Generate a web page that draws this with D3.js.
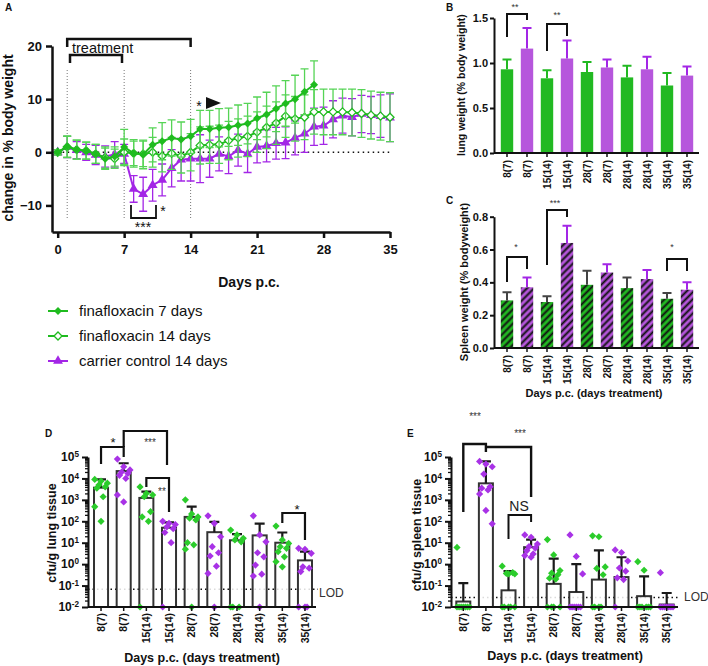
<!DOCTYPE html>
<html><head><meta charset="utf-8">
<script src="https://cdn.jsdelivr.net/npm/d3@7"></script>
<style>
body{margin:0;background:#fff;}
svg{font-family:"Liberation Sans",Arial,Helvetica,sans-serif;}
</style></head><body>
<svg id="c" width="708" height="666"></svg>
<script>
// ================= DATA =================
// Panel A: change in % body weight
const daysAll = [0,1,2,3,4,5,6,7,8,9,10,11,12,13,14,15,16,17,18,19,20,21,22,23,24,25,26,27,28,29,30,31,32,33,34,35];
const daysFina7 = [0,1,2,3,4,5,6,7,8,9,10,11,12,13,14,15,16,17,18,19,20,21,22,23,24,25,26,27];
const fina7 = [0,1.1,0.5,0.3,-0.3,-1.2,-0.8,1.0,-0.2,-0.4,1.4,2.1,2.7,2.4,3.0,4.4,4.4,4.6,4.7,5.1,5.4,6.4,7.1,8.2,9.2,10.0,11.4,12.7];
const fina7Err = [0.5,2.0,1.8,1.6,1.8,2.0,1.8,3.3,2.6,2.7,3.2,3.5,3.4,3.3,3.2,3.5,3.5,3.6,3.6,3.8,3.8,4.0,4.2,4.3,4.3,4.5,4.3,4.5];
const fina14 = [0,1.0,0.5,0.3,-0.3,-1.0,-1.2,0.0,-0.2,-0.3,0.0,-0.7,-0.2,-0.7,0.0,1.3,1.4,1.5,2.2,2.7,3.0,3.8,4.7,5.5,6.8,6.3,6.6,7.6,7.6,7.6,7.6,7.5,7.3,7.0,6.8,6.6];
const fina14Err = [0.5,2.0,1.8,1.6,1.8,2.0,1.8,2.5,2.3,2.4,2.8,3.0,3.0,3.2,3.5,3.5,3.5,3.6,3.6,3.6,3.8,3.8,4.0,4.0,4.0,4.2,4.2,4.2,4.3,4.3,4.3,4.4,4.5,4.5,4.5,4.6];
const carrier = [0,1.0,0.4,0.0,-0.5,-0.8,-0.4,-0.3,-6.9,-7.9,-6.2,-5.2,-3.0,-1.4,-1.2,-1.2,-1.2,-0.3,-0.8,0.4,-0.3,1.0,1.2,1.7,1.8,2.7,3.5,4.8,5.0,6.2,6.9,6.6,7.2,7.0,6.8,6.5];
const carrierErr = [0.5,2.0,1.6,1.5,1.8,2.0,2.4,1.8,2.5,3.2,3.0,3.0,3.5,4.0,4.2,4.5,3.5,3.2,3.2,3.0,3.5,3.0,3.0,3.0,3.0,3.2,3.5,3.5,3.5,3.5,3.3,3.5,3.5,3.5,4.0,4.5];
const aXTicks = [0,7,14,21,28,35];
const aYTicks = [-10,0,10,20];
const legendLabels = ["finafloxacin 7 days","finafloxacin 14 days","carrier control 14 days"];

// Panels B-E: groups "Days p.c. (days treatment)"
const groups = ["8(7)","8(7)","15(14)","15(14)","28(7)","28(7)","28(14)","28(14)","35(14)","35(14)"];
const groupTreatment = ["fina","carrier","fina","carrier","fina","carrier","fina","carrier","fina","carrier"];

// Panel B: lung weight (% body weight)
const lungWeight = [0.93,1.16,0.83,1.05,0.90,0.95,0.84,0.93,0.75,0.86];
const lungWeightErr = [0.11,0.23,0.09,0.20,0.11,0.09,0.13,0.14,0.14,0.10];
const bYTicks = [0,0.5,1.0,1.5];

// Panel C: spleen weight (% bodyweight)
const spleenWeight = [0.29,0.37,0.28,0.64,0.385,0.46,0.365,0.42,0.30,0.355];
const spleenWeightErr = [0.05,0.06,0.035,0.105,0.085,0.05,0.065,0.055,0.035,0.045];
const cYTicks = [0,0.2,0.4,0.6,0.8];

// Panel D: cfu/g lung tissue
const lungCfuMean = [3700,22000,1230,50,160,31,13,22,10,1.5];
const lungCfuErrTop = [9100,51000,2400,89,480,93,25,78,30,3.8];
const lungCfuPoints = [
  [9000,7500,6000,5000,4000,3500,1400,480,100],
  [80000,35000,25000,20000,17000,14000,10000,1700,800],
  [4000,2000,1700,1400,280,160,100,0.01],
  [100,80,70,55,45,30,10,0.01],
  [1000,220,160,140,115,10,8,5,0.01],
  [180,80,19,6.5,3.4,2.4,0.8,0.37,0.01],
  [39,23,16,13.5,11,0.01,0.01,0.01],
  [180,23,11,3.4,2.2,0.9,0.34,0.28,0.01],
  [60,13.5,9.3,6.5,5.5,3.8,2.2,1.3,0.75],
  [5.5,4.9,3.2,0.75,0.65,0.45,0.01,0.01,0.01]
];
const lungLOD = 0.068;

// Panel E: cfu/g spleen tissue
const spleenCfuMean = [0.018,5900,0.06,6.2,0.12,0.05,0.19,0.25,0.032,0.013];
const spleenCfuErrTop = [0.13,62000,0.47,14,1.8,1.0,4.4,2.1,0.27,0.045];
const spleenCfuPoints = [
  [6,0.01,0.01,0.01,0.01,0.01,0.01,0.01],
  [62000,47000,35000,16000,4100,3500,2900,1900,320,76],
  [0.8,0.35,0.35,0.37,0.4,0.01,0.01,0.01,0.01,0.01],
  [23,18,8.7,6.6,5.6,4.3,3,2.5,2.1],
  [14,2.7,0.5,0.38,0.32,0.22,0.2,0.01,0.01,0.01,0.01],
  [23,2.3,0.35,0.01,0.01,0.01,0.01,0.01,0.01],
  [21,19,0.74,0.63,0.32,0.01,0.01,0.01,0.01],
  [4.6,3.5,1.4,0.66,0.47,0.23,0.19,0.01],
  [1.3,0.52,0.01,0.01,0.01,0.01,0.01,0.01],
  [0.4,0.01,0.01,0.01,0.01,0.01,0.01,0.01]
];
const spleenLOD = 0.028;
const cfuTickValues = [0.01,0.1,1,10,100,1000,10000,100000];

// ================= STYLE =================
const GREEN = "#1fbb1f", GREEN_ERR = "#55d455", GREEN_BAR = "#22b922";
const PURPLE = "#a326e6", PURPLE_BAR = "#b656dc";
const PT_GREEN = "#2bcc2b", PT_PURPLE = "#a832e6";
const INK = "#111";

const svg = d3.select("#c");
const defs = svg.append("defs");
[[GREEN_BAR,"hatch0"],[PURPLE_BAR,"hatch1"]].forEach(([c,id])=>{
  const p = defs.append("pattern").attr("id",id).attr("patternUnits","userSpaceOnUse")
    .attr("width",5).attr("height",5).attr("patternTransform","rotate(45)");
  p.append("rect").attr("width",5).attr("height",5).attr("fill",c);
  p.append("line").attr("x1",1.5).attr("x2",1.5).attr("y1",0).attr("y2",5).attr("stroke","#111").attr("stroke-width",2);
});

function styleAxis(g, sw){
  g.selectAll(".domain").attr("stroke",INK).attr("stroke-width",sw);
  g.selectAll(".tick line").attr("stroke",INK).attr("stroke-width",sw);
  g.selectAll(".tick text").attr("fill",INK).attr("font-weight","bold");
}
function label(x,y,txt,size,opts={}){
  const t = svg.append("text").attr("x",x).attr("y",y).attr("font-size",size).attr("fill",opts.fill||INK)
    .attr("font-weight",opts.bold?"bold":"normal").attr("text-anchor",opts.anchor||"start").text(txt);
  if(opts.rotate) t.attr("transform",`rotate(-90,${x},${y})`);
  if(opts.gray) t.attr("opacity",0.99);
  return t;
}
function bracket(x1,yl1,yTop,x2,yl2,sw){
  svg.append("path").attr("d",`M${x1},${yl1}V${yTop}H${x2}V${yl2}`)
    .attr("fill","none").attr("stroke",INK).attr("stroke-width",sw||2);
}
const diamond = r => `M0,${-r}L${r},0L0,${r}L${-r},0Z`;

// ================= PANEL A =================
const xA = d3.scaleLinear().domain([-0.6,35]).range([52,390]);
const yA = d3.scaleLinear().domain([-15,20]).range([232,46]);
const gA = svg.append("g");

gA.append("line").attr("x1",xA(0)).attr("x2",xA(35)).attr("y1",yA(0)).attr("y2",yA(0))
  .attr("stroke",INK).attr("stroke-width",1.5).attr("stroke-dasharray","1.5,3.5");
[1,7,14].forEach(d=>{
  gA.append("line").attr("x1",xA(d)).attr("x2",xA(d)).attr("y1",70).attr("y2",220)
    .attr("stroke","#777").attr("stroke-width",1).attr("stroke-dasharray","1,2");
});

function seriesA(days, vals, errs, lineColor, errColor, marker){
  const data = vals.map((v,i)=>({d:days[i], v, e:errs[i]}));
  const g = gA.append("g");
  g.append("g").attr("stroke",errColor).attr("stroke-width",1.3).attr("fill","none")
    .selectAll("path").data(data).join("path").attr("d",p=>{
      const X=xA(p.d), y1=yA(p.v-p.e), y2=yA(p.v+p.e);
      return `M${X},${y1}V${y2}M${X-4},${y1}H${X+4}M${X-4},${y2}H${X+4}`;
    });
  g.append("path").datum(data).attr("fill","none").attr("stroke",lineColor).attr("stroke-width",2)
    .attr("d",d3.line().x(p=>xA(p.d)).y(p=>yA(p.v)));
  const m = g.append("g").selectAll("path").data(data).join("path")
    .attr("transform",p=>`translate(${xA(p.d)},${yA(p.v)})`);
  marker(m);
}
const mFilledDiamond = s=>s.attr("d",diamond(4)).attr("fill",GREEN);
const mOpenDiamond = s=>s.attr("d",diamond(4)).attr("fill","#fff").attr("stroke",GREEN).attr("stroke-width",1.3);
const mTriangle = s=>s.attr("d",d3.symbol(d3.symbolTriangle,42)()).attr("fill",PURPLE);

seriesA(daysAll, carrier, carrierErr, PURPLE, PURPLE, mTriangle);
seriesA(daysAll, fina14, fina14Err, GREEN, GREEN_ERR, mOpenDiamond);
seriesA(daysFina7, fina7, fina7Err, GREEN, GREEN_ERR, mFilledDiamond);

const axAy = gA.append("g").attr("transform","translate(52,0)")
  .call(d3.axisLeft(yA).tickValues(aYTicks).tickSize(6).tickPadding(4).tickSizeOuter(0));
axAy.selectAll(".tick text").attr("font-size",13);
styleAxis(axAy,2.5);
const axAx = gA.append("g").attr("transform","translate(0,232)")
  .call(d3.axisBottom(xA).tickValues(aXTicks).tickSize(6).tickPadding(7).tickSizeOuter(0));
axAx.selectAll(".tick text").attr("font-size",13);
styleAxis(axAx,2.5);

label(13,138,"change in % body weight",14,{bold:true,anchor:"middle",rotate:true});
label(249,287,"Days p.c.",14,{bold:true,anchor:"middle"});
label(5,11,"A",10,{bold:true});

// treatment brackets & annotations
bracket(xA(1),47,39,xA(14),47,2.5);
bracket(70,63,55,122,63,2.5);
label(72,53,"treatment",14.5);
bracket(131,205,218,156,205,1.8);
label(143,232,"***",14,{anchor:"middle"});
label(163,216,"*",14,{anchor:"middle"});
label(199,111,"*",14,{anchor:"middle"});
svg.append("path").attr("d","M206,97L221,103L206,109Z").attr("fill",INK);

// legend
const legendMarkers = [mFilledDiamond, mOpenDiamond, mTriangle];
const legendColors = [GREEN, GREEN, PURPLE];
legendLabels.forEach((t,i)=>{
  const y = 311 + i*25;
  svg.append("line").attr("x1",48).attr("x2",68).attr("y1",y).attr("y2",y).attr("stroke",legendColors[i]).attr("stroke-width",2);
  legendMarkers[i](svg.append("path").attr("transform",`translate(58,${y})`));
  label(79,y+5,t,15);
});

// ================= PANELS B & C =================
function organPanel(vals, errs, yDomain, yRange, yTicks, hatched, errColors){
  const g = svg.append("g");
  const x = d3.scaleBand().domain(d3.range(vals.length)).range([497,697]).paddingInner(0.38).paddingOuter(0.19);
  const y = d3.scaleLinear().domain(yDomain).range(yRange);
  g.selectAll("rect").data(vals).join("rect")
    .attr("x",(d,i)=>x(i)).attr("width",x.bandwidth()).attr("y",d=>y(d)).attr("height",d=>y(0)-y(d))
    .attr("fill",(d,i)=>hatched?`url(#hatch${i%2})`:(groupTreatment[i]==="fina"?GREEN_BAR:PURPLE_BAR));
  g.append("g").selectAll("path").data(vals).join("path")
    .attr("fill","none").attr("stroke-width",2).attr("stroke",(d,i)=>errColors[i%2])
    .attr("d",(d,i)=>{const X=x(i)+x.bandwidth()/2, y1=y(d), y2=y(d+errs[i]); return `M${X},${y1}V${y2}M${X-4.5},${y2}H${X+4.5}`;});
  const ay = g.append("g").attr("transform","translate(494,0)")
    .call(d3.axisLeft(y).tickValues(yTicks).tickSize(4).tickPadding(2).tickFormat(d3.format(".1f")).tickSizeOuter(0));
  ay.selectAll(".tick text").attr("font-size",11);
  styleAxis(ay,2);
  const ax = g.append("g").attr("transform",`translate(0,${y(0)})`)
    .call(d3.axisBottom(x).tickSize(4).tickPadding(3).tickFormat(i=>groups[i]));
  ax.select(".domain").remove();
  ax.selectAll(".tick text").attr("font-size",10).attr("transform","rotate(-90)")
    .attr("text-anchor","end").attr("x",-7).attr("y",0).attr("dy","0.35em");
  styleAxis(ax,1.5);
  g.append("line").attr("x1",494).attr("x2",699).attr("y1",y(0)).attr("y2",y(0)).attr("stroke",INK).attr("stroke-width",2);
  return {x,y};
}
organPanel(lungWeight, lungWeightErr, [0,1.5], [153,18], bYTicks, false, [GREEN_BAR, PURPLE]);
label(465,85,"lung weight (% body weight)",10.5,{bold:true,anchor:"middle",rotate:true});
label(446,11,"B",10,{bold:true});
bracket(507,37,14,527,20,2);
bracket(547,51,24,567,36,2);
label(515,10,"**",9,{anchor:"middle",fill:"#333",gray:true});
label(557,18,"**",9,{anchor:"middle",fill:"#333",gray:true});

organPanel(spleenWeight, spleenWeightErr, [0,0.8], [348,216.7], cYTicks, true, ["#444", PURPLE]);
label(468,282,"Spleen weight (% bodyweight)",11,{bold:true,anchor:"middle",rotate:true});
label(446,204,"C",10,{bold:true});
label(594,397,"Days p.c. (days treatment)",11,{bold:true,anchor:"middle"});
bracket(507,282,257,527,269,2);
bracket(547,265,210,567,217,2);
bracket(667,271,259,687,271,2);
label(516,250,"*",9,{anchor:"middle",fill:"#333",gray:true});
label(555,206,"***",9,{anchor:"middle",fill:"#333",gray:true});
label(672,250,"*",9,{anchor:"middle",fill:"#333",gray:true});

// ================= PANELS D & E =================
function cfuPanel(axisX, bandRange, axisEnd, means, errTops, points, lod){
  const g = svg.append("g");
  const x = d3.scaleBand().domain(d3.range(means.length)).range(bandRange).paddingInner(0.38).paddingOuter(0.19);
  const y = d3.scaleLog().domain([0.01,1e5]).range([607,457]);
  const cx = i => x(i)+x.bandwidth()/2;
  g.append("line").attr("x1",axisX).attr("x2",axisEnd+2).attr("y1",y(lod)).attr("y2",y(lod))
    .attr("stroke",INK).attr("stroke-width",1.5).attr("stroke-dasharray","1.5,3");
  g.selectAll("rect").data(means).join("rect")
    .attr("x",(d,i)=>x(i)).attr("width",x.bandwidth()).attr("y",d=>y(d)).attr("height",d=>y(0.01)-y(d))
    .attr("fill","#fff").attr("fill-opacity",0.85).attr("stroke","#333").attr("stroke-width",2);
  g.append("g").selectAll("path").data(means).join("path")
    .attr("fill","none").attr("stroke","#1a1a1a").attr("stroke-width",2.2)
    .attr("d",(d,i)=>{const X=cx(i), y1=y(d), y2=y(errTops[i]); return `M${X},${y1}V${y2}M${X-5},${y2}H${X+5}`;});
  const pts = [];
  points.forEach((arr,gi)=>arr.forEach((v,j)=>pts.push({gi,j,v})));
  g.append("g").selectAll("path").data(pts).join("path")
    .attr("d",diamond(3.6))
    .attr("fill",p=>groupTreatment[p.gi]==="fina"?PT_GREEN:PT_PURPLE)
    .attr("transform",p=>{const off=(((p.j*3)%7)-3)*2.1; return `translate(${cx(p.gi)+off},${y(p.v)})`;});
  const ay = g.append("g").attr("transform",`translate(${axisX},0)`)
    .call(d3.axisLeft(y).tickValues(cfuTickValues).tickSize(6).tickPadding(3).tickSizeOuter(0));
  ay.selectAll(".tick text").attr("font-size",12).each(function(d){
    const t = d3.select(this); const e = Math.round(Math.log10(d));
    t.text(null);
    t.append("tspan").text("10");
    t.append("tspan").attr("dy","-0.5em").attr("font-size","0.68em").text(e);
  });
  styleAxis(ay,2);
  const minor = [];
  cfuTickValues.slice(0,-1).forEach(b=>[2,3,4,5,6,7,8,9].forEach(k=>minor.push(b*k)));
  const am = g.append("g").attr("transform",`translate(${axisX},0)`)
    .call(d3.axisLeft(y).tickValues(minor).tickSize(3).tickFormat("").tickSizeOuter(0));
  am.select(".domain").remove();
  am.selectAll(".tick line").attr("stroke",INK).attr("stroke-width",1.3);
  const ax = g.append("g").attr("transform",`translate(0,607)`)
    .call(d3.axisBottom(x).tickSize(4).tickPadding(2).tickFormat(i=>groups[i]));
  ax.select(".domain").remove();
  ax.selectAll(".tick text").attr("font-size",10.5).attr("transform","rotate(-90)")
    .attr("text-anchor","end").attr("x",-6).attr("y",0).attr("dy","0.35em");
  styleAxis(ax,1.5);
  g.append("line").attr("x1",axisX).attr("x2",axisEnd).attr("y1",607).attr("y2",607).attr("stroke",INK).attr("stroke-width",2);
  return {x,y,cx};
}
const D = cfuPanel(88, [89.7,316.3], 316, lungCfuMean, lungCfuErrTop, lungCfuPoints, lungLOD);
label(56,533,"cfu/g lung tissue",12.5,{bold:true,anchor:"middle",rotate:true});
label(45,437,"D",10,{bold:true});
label(202,662,"Days p.c. (days treatment)",12.5,{bold:true,anchor:"middle"});
label(319,597,"LOD",12,{fill:"#333"});
bracket(D.cx(0),464,447,D.cx(1),457,2.2);
bracket(D.cx(1),447,431,D.cx(3)-2,465,2.2);
bracket(D.cx(2),487,478,D.cx(3),512,2.2);
bracket(D.cx(8),523,513,D.cx(9),540,2.2);
label(113,447,"*",13,{anchor:"middle"});
label(150,446,"***",10,{anchor:"middle",fill:"#333",gray:true});
label(162,495,"**",10,{anchor:"middle",fill:"#333",gray:true});
label(297,514,"*",13,{anchor:"middle"});

const E = cfuPanel(451, [452,678], 678, spleenCfuMean, spleenCfuErrTop, spleenCfuPoints, spleenLOD);
label(421,535,"cfu/g spleen tissue",12.5,{bold:true,anchor:"middle",rotate:true});
label(407,437,"E",10,{bold:true});
label(565,660,"Days p.c. (days treatment)",12.5,{bold:true,anchor:"middle"});
label(684,601,"LOD",12,{fill:"#333"});
bracket(E.cx(0),512,444,E.cx(1),452,2.4);
bracket(E.cx(1),447,447,E.cx(3),497,2.4);
bracket(E.cx(2),539,515,E.cx(3),522,2);
label(475,420,"***",10,{anchor:"middle",fill:"#333",gray:true});
label(520,437,"***",10,{anchor:"middle",fill:"#333",gray:true});
label(519,511,"NS",14,{anchor:"middle",fill:"#222"});
</script>
</body></html>
